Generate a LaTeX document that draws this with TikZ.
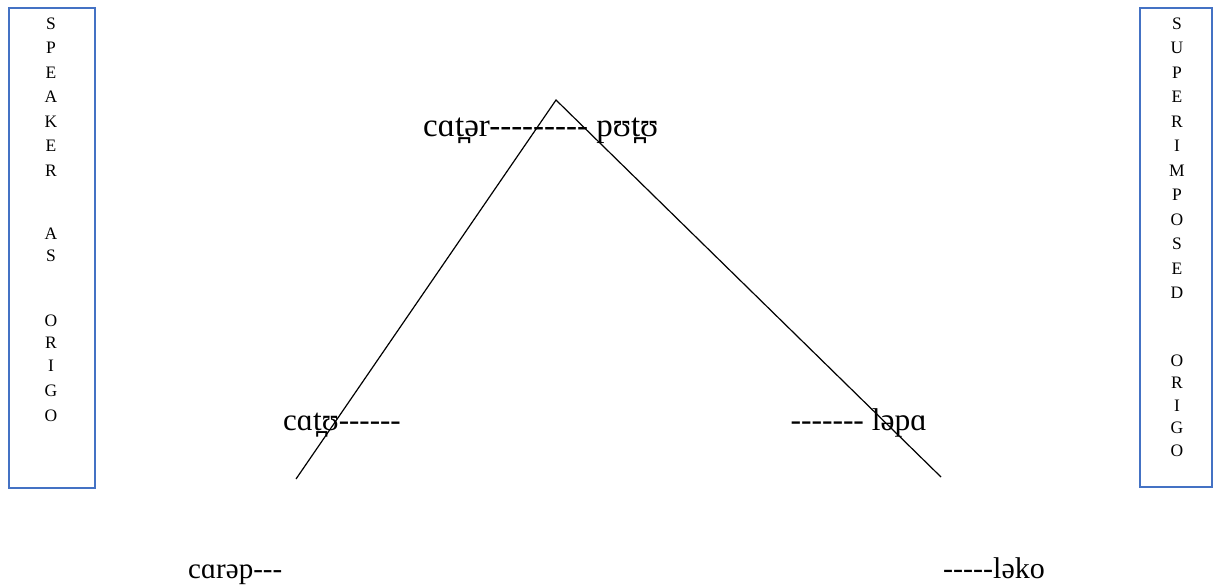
\documentclass[tikz,border=0pt]{standalone}
\usepackage{fontspec}
\setmainfont{Liberation Serif}[Ligatures=TeXOff]
\definecolor{boxblue}{HTML}{4472C4}
\begin{document}
\begin{tikzpicture}[x=1pt,y=-1pt,
  sidebox/.style={draw=boxblue,line width=1.4pt},
  letter/.style={anchor=base,inner sep=0pt,font=\fontsize{17.5}{17.5}\selectfont},
  ipa/.style={inner sep=0pt,font=\fontsize{#1}{#1}\selectfont},
  leg/.style={line width=1.2pt,black}]
\useasboundingbox (0,0) rectangle (1222,587);
% side boxes
\draw[sidebox] (9,8) rectangle (95,488);
\draw[sidebox] (1140,8) rectangle (1212,487);
\foreach \t/\y [count=\i] in {S/23,P/47.5,E/72,A/96.5,K/121,E/145.5,R/170,A/233,S/255,O/320,R/342,I/365,G/390,O/415}
  \node[letter] (L\i) at (51,\y+6) {\t};
\foreach \t/\y [count=\i] in {S/23,U/47.5,P/72,E/96.5,R/121,I/145.5,M/170,P/194.5,O/219,S/243.5,E/268,D/292.5,O/360,R/382.5,I/405,G/427.5,O/450}
  \node[letter] (R\i) at (1177,\y+6) {\t};
% triangle
\coordinate (apex) at (556,100);
\coordinate (lfoot) at (296,479);
\coordinate (rfoot) at (941,477);
\draw[leg] (lfoot) -- (apex) -- (rfoot);
% labels
\node[ipa=33,anchor=base west] (top) at (423,136) {cɑt̪ər--------- pʊt̪ʊ};
\node[ipa=31,anchor=base west] (ml) at (283,430) {cɑt̪ʊ------};
\node[ipa=31.5,anchor=base east] (mr) at (927,430) {------- ləpɑ};
\node[ipa=29,anchor=base west] (bl) at (188,578) {cɑrəp---};
\node[ipa=30,anchor=base east] (br) at (1045,578) {-----ləko};
\end{tikzpicture}
\end{document}
